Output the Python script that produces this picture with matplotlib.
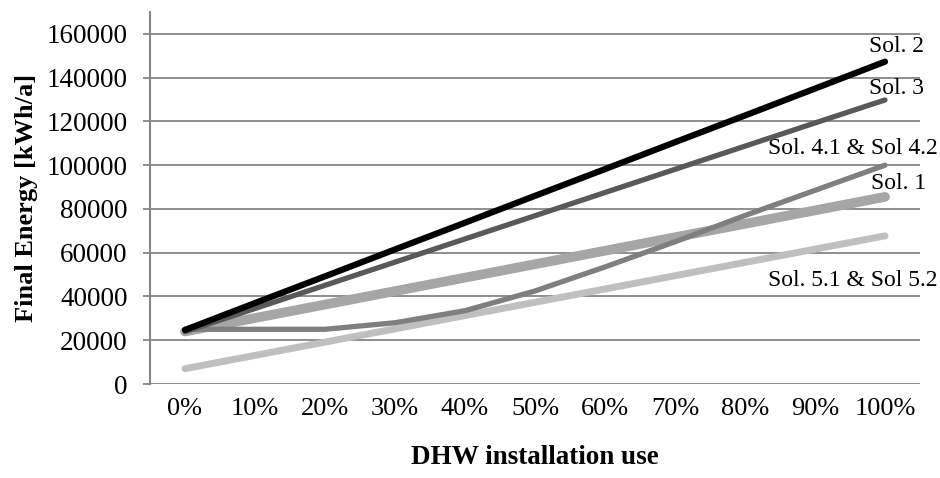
import matplotlib
matplotlib.use('Agg')
import matplotlib.pyplot as plt

# values (kWh/a)
categories = ['0%', '10%', '20%', '30%', '40%', '50%', '60%', '70%', '80%', '90%', '100%']
sol_2 = [24700, 37000, 49200, 61500, 73700, 86000, 98200, 110500, 122700, 135000, 147300]
sol_3 = [23900, 34500, 45100, 55700, 66300, 76900, 87500, 98100, 108700, 119300, 129800]
sol_4 = [25000, 25000, 25000, 28000, 33500, 42500, 53500, 65000, 77000, 88500, 100000]
sol_1 = [24000, 30150, 36300, 42450, 48600, 54750, 60900, 67050, 73200, 79350, 85500]
sol_5 = [7000, 13070, 19140, 25210, 31280, 37350, 43420, 49490, 55560, 61630, 67700]

plt.rcParams['font.family'] = ['Liberation Serif', 'DejaVu Serif']

fig = plt.figure(figsize=(9.4, 4.78), dpi=100)
ax = fig.add_axes([150 / 940, 94 / 478, 770 / 940, 372 / 478])

x = range(len(categories))
grid_col = '#868686'

# gridlines
for v in range(0, 160001, 20000):
    ax.axhline(v, color=grid_col, lw=1.3, zorder=1)

# series, lightest at the bottom
ax.plot(x, sol_5, color='#bfbfbf', lw=5, solid_capstyle='round', zorder=2)
ax.plot(x, sol_1, color='#a6a6a6', lw=7, solid_capstyle='round', zorder=3)
ax.plot(x, sol_4, color='#7f7f7f', lw=3.8, solid_capstyle='round', zorder=4)
ax.plot(x, sol_3, color='#595959', lw=3.8, solid_capstyle='round', zorder=5)
ax.plot(x, sol_2, color='black', lw=4.5, solid_capstyle='round', zorder=6)

# end labels
lab = dict(fontsize=17, textcoords='offset points', va='center')
ax.annotate('Sol. 2', (10, sol_2[-1]), xytext=(8.6, 10.6), ha='center', **lab)
ax.annotate('Sol. 3', (10, sol_3[-1]), xytext=(8.6, 8), ha='center', **lab)
ax.annotate('Sol. 4.1 & Sol 4.2', (10, sol_4[-1]), xytext=(38, 12), ha='right', **lab)
ax.annotate('Sol. 1', (10, sol_1[-1]), xytext=(10, 10), ha='center', **lab)
ax.annotate('Sol. 5.1 & Sol 5.2', (10, sol_5[-1]), xytext=(38, -32), ha='right', **lab)

ax.set_xlim(-0.5, 10.5)
ax.set_ylim(0, 170000)
ax.set_yticks(range(0, 160001, 20000))
ax.set_xticks(list(x))
ax.set_xticklabels(categories)

for s in ['top', 'right', 'bottom']:
    ax.spines[s].set_visible(False)
ax.spines['left'].set_color(grid_col)
ax.spines['left'].set_linewidth(1.5)

ax.tick_params(axis='y', length=5, width=1.3, color=grid_col, labelsize=19.5, pad=11)
ax.tick_params(axis='x', length=0, labelsize=19, pad=10)

ax.set_ylabel('Final Energy [kWh/a]', fontsize=19, fontweight='bold', labelpad=6)
ax.set_xlabel('DHW installation use', fontsize=19.5, fontweight='bold', labelpad=18)

fig.savefig('out.png', dpi=100)
